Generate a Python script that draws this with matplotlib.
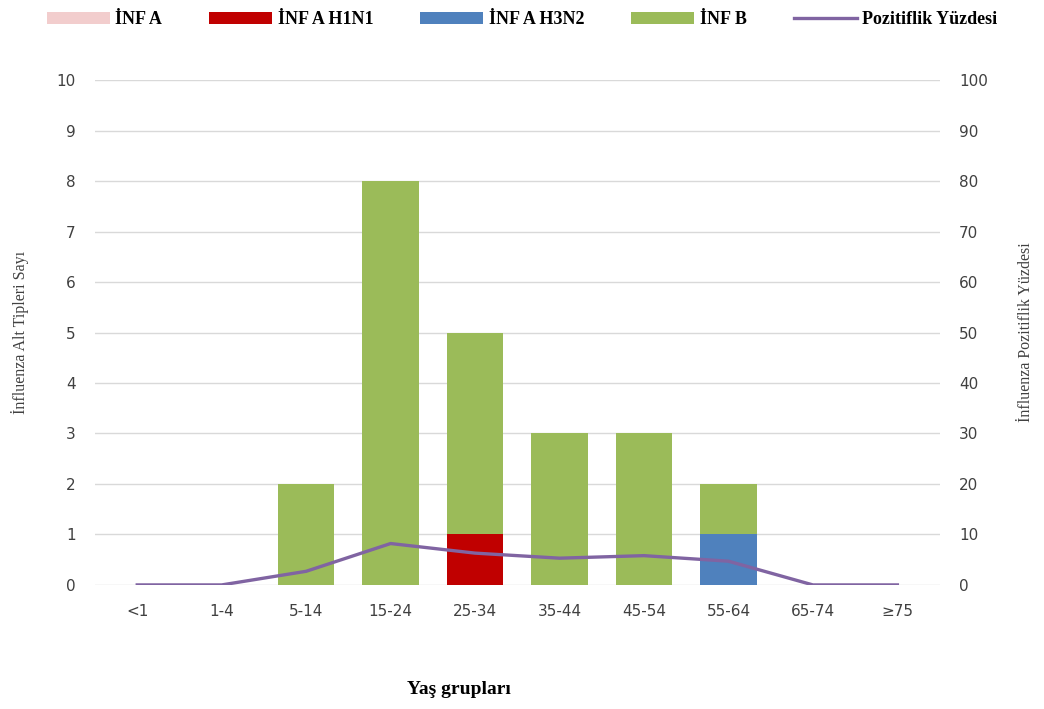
import matplotlib.pyplot as plt
import numpy as np

groups = ['<1', '1-4', '5-14', '15-24', '25-34', '35-44', '45-54', '55-64', '65-74', '≥75']
inf_a = [0, 0, 0, 0, 0, 0, 0, 0, 0, 0]
inf_a_h1n1 = [0, 0, 0, 0, 1, 0, 0, 0, 0, 0]
inf_a_h3n2 = [0, 0, 0, 0, 0, 0, 0, 1, 0, 0]
inf_b = [0, 0, 2, 8, 4, 3, 3, 1, 0, 0]
pozitiflik = [0, 0, 2.7, 8.2, 6.3, 5.3, 5.8, 4.7, 0, 0]

fig = plt.figure(figsize=(10.44, 7.09), dpi=100)
ax = fig.add_axes([0.091, 0.175, 0.809, 0.712])
ax2 = ax.twinx()

x = np.arange(len(groups))
w = 0.67
bottom = np.zeros(len(groups))
series = [(inf_a, '#F2CDCD', 'İNF A'), (inf_a_h1n1, '#C00000', 'İNF A H1N1'),
          (inf_a_h3n2, '#4F81BD', 'İNF A H3N2'), (inf_b, '#9BBB59', 'İNF B')]
handles = []
for vals, col, lab in series:
    b = ax.bar(x, vals, w, bottom=bottom, color=col, label=lab, zorder=3)
    bottom += np.array(vals)
    handles.append(b)

ln, = ax2.plot(x, pozitiflik, color='#8064A2', lw=2.4, label='Pozitiflik Yüzdesi', zorder=4)
handles.append(ln)

ax.set_xlim(-0.5, len(groups) - 0.5)
ax.set_ylim(0, 10)
ax.set_yticks(range(0, 11))
ax2.set_ylim(0, 100)
ax2.set_yticks(range(0, 101, 10))
ax.yaxis.grid(True, color='#D9D9D9', lw=1, zorder=0)
ax.set_axisbelow(True)
for a in (ax, ax2):
    for s in a.spines.values():
        s.set_visible(False)
    a.tick_params(length=0, labelsize=11, labelcolor='#404040', pad=14)
ax.set_xticks(x)
ax.set_xticklabels(groups)
ax.tick_params(axis='x', pad=14)

serif = 'Liberation Serif'
ax.set_ylabel('İnfluenza Alt Tipleri Sayı', family=serif, fontsize=11.5, color='#404040', labelpad=20)
ax2.set_ylabel('İnfluenza Pozitiflik Yüzdesi', family=serif, fontsize=11.5, color='#404040', labelpad=22)
fig.text(0.44, 0.027, 'Yaş grupları', family=serif, fontsize=14, fontweight='bold', ha='center', va='center')

fig.legend(handles, [h.get_label() for h in handles], loc='upper center', bbox_to_anchor=(0.5, 1.007),
           ncol=5, frameon=False, prop={'family': serif, 'size': 13, 'weight': 'bold'},
           handlelength=3.5, handleheight=0.7, columnspacing=2.6, handletextpad=0.3)

fig.savefig('out.png', dpi=100)
